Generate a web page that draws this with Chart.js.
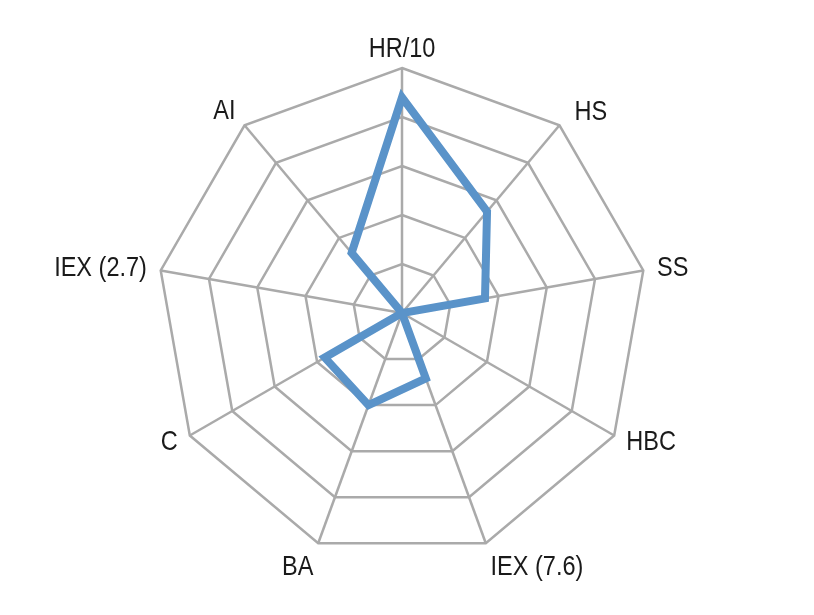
<!DOCTYPE html>
<html>
<head>
<meta charset="utf-8">
<script src="https://cdn.jsdelivr.net/npm/chart.js@4.4.0/dist/chart.umd.min.js"></script>
<style>
  html, body { margin: 0; padding: 0; background: #fff; }
  #wrap { width: 814px; height: 615px; }
</style>
</head>
<body>
<div id="wrap"><canvas id="radar"></canvas></div>
<script>
const labels = ['HR/10', 'HS', 'SS', 'HBC', 'IEX (7.6)', 'BA', 'C', 'IEX (2.7)', 'AI'];
const values = [4.4, 2.7, 1.72, 0, 1.42, 2.0, 1.82, 0, 1.6];
const scaleMax = 5;

// axis labels drawn narrow, placed round the outer ring like the original
const narrowLabels = {
    id: 'narrowLabels',
    afterDraw(chart) {
        const r = chart.scales.r;
        const c = chart.ctx;
        c.save();
        c.fillStyle = '#1a1a1a';
        c.font = '28px "Liberation Sans", Arial, sans-serif';
        labels.forEach((lab, i) => {
            const p = r.getPointPosition(i, r.drawingArea + 14);
            const deg = Math.round(r.getIndexAngle(i) * 180 / Math.PI) % 360;
            let align = 'center', base = 'middle', x = p.x, y = p.y;
            if (deg === 0) { base = 'alphabetic'; y = p.y + 3; }
            else if (deg > 135 && deg < 225) {
                base = 'top'; y = p.y - 3;
                align = deg < 180 ? 'left' : 'right';
            } else {
                align = deg < 180 ? 'left' : 'right';
                if (deg < 60) { x = p.x + 6; y = p.y - 2; }
                if (deg > 300) y = p.y - 3;
            }
            c.textAlign = align;
            c.textBaseline = base;
            c.translate(x, y);
            c.scale(0.84, 1);
            c.fillText(lab, 0, 0);
            c.setTransform(1, 0, 0, 1, 0, 0);
        });
        c.restore();
    }
};

const ctx = document.getElementById('radar');
new Chart(ctx, {
    type: 'radar',
    data: {
        labels: labels,
        datasets: [{
            data: values,
            borderColor: '#5a93c9',
            borderWidth: 8,
            pointRadius: 0,
            fill: false
        }]
    },
    options: {
        responsive: true,
        maintainAspectRatio: false,
        animation: false,
        layout: { padding: { top: 68, bottom: 57, left: 0, right: 10 } },
        plugins: { legend: { display: false }, tooltip: { enabled: false } },
        scales: {
            r: {
                min: 0,
                max: scaleMax,
                ticks: { display: false, stepSize: 1 },
                grid: { color: '#aaaaaa', lineWidth: 2.5 },
                angleLines: { color: '#aaaaaa', lineWidth: 2.5 },
                pointLabels: { display: false }
            }
        }
    },
    plugins: [narrowLabels]
});
</script>
</body>
</html>
